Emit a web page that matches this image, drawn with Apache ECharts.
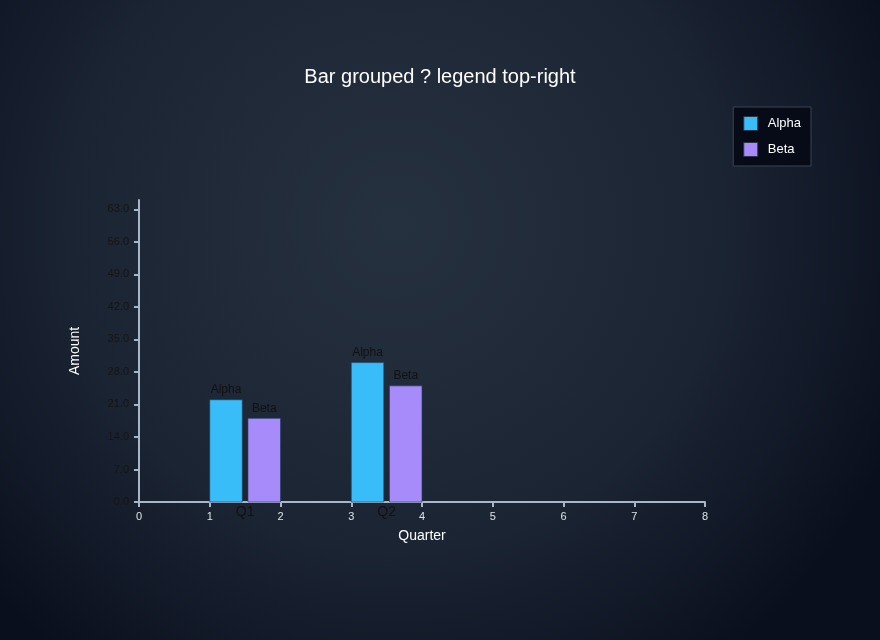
<!DOCTYPE html>
<html>
<head>
<meta charset="utf-8">
<script src="https://cdn.jsdelivr.net/npm/echarts@6/dist/echarts.min.js"></script>
<style>
html,body{margin:0;padding:0;background:#111827;}
#chart{width:880px;height:640px;}
</style>
</head>
<body>
<div id="chart"></div>
<script>
var categories = ['Q1', 'Q2'];
var seriesNames = ['Alpha', 'Beta'];
var alphaValues = [22, 30];
var betaValues = [18, 25];
var yTicks = [0, 7, 14, 21, 28, 35, 42, 49, 56, 63];
var xTicks = [0, 1, 2, 3, 4, 5, 6, 7, 8];

var FONT = '"Liberation Sans", Arial, sans-serif';
var chart = echarts.init(document.getElementById('chart'));

function barRender(params, api) {
  var i = api.value(0);
  var v = api.value(1);
  var s = params.seriesIndex;
  var x0 = 1 + 2 * i + s * 0.54;
  var p0 = api.coord([x0, v]);
  var p1 = api.coord([x0 + 0.46, 0]);
  var st = api.style();
  return {
    type: 'group',
    children: [
      {
        type: 'rect',
        shape: { x: p0[0], y: p0[1], width: p1[0] - p0[0], height: p1[1] - p0[1] },
        style: { fill: st.fill, stroke: 'rgba(30,60,90,0.6)', lineWidth: 1 }
      },
      {
        type: 'text',
        x: (p0[0] + p1[0]) / 2,
        y: p0[1] - 4,
        style: { text: seriesNames[s], fill: '#111111', font: '12px ' + FONT, align: 'center', verticalAlign: 'bottom' }
      }
    ]
  };
}

function catRender(params, api) {
  var i = api.value(0);
  var p = api.coord([1 + 2 * i + 0.5, 0]);
  return {
    type: 'text',
    x: p[0],
    y: p[1] + 3,
    style: { text: categories[i], fill: '#111111', font: '14px ' + FONT, align: 'center', verticalAlign: 'top' }
  };
}

var option = {
  backgroundColor: {
    type: 'radial', x: 0.45, y: 0.35, r: 0.85,
    colorStops: [
      { offset: 0, color: '#263140' },
      { offset: 0.6, color: '#1b2433' },
      { offset: 1, color: '#0a0f1d' }
    ]
  },
  animation: false,
  textStyle: { fontFamily: FONT },
  title: {
    text: 'Bar grouped ? legend top-right',
    left: 'center', top: 62,
    textStyle: { color: '#ffffff', fontSize: 20, fontWeight: 'normal', fontFamily: FONT }
  },
  legend: {
    data: seriesNames,
    orient: 'vertical',
    right: 69, top: 107,
    padding: [9, 10, 9, 10],
    itemWidth: 14, itemHeight: 14, itemGap: 11,
    backgroundColor: '#070b18',
    borderColor: '#3a4556', borderWidth: 1,
    icon: 'rect',
    itemStyle: { borderColor: '#2a3344', borderWidth: 1 },
    textStyle: { color: '#ffffff', fontSize: 13, fontFamily: FONT, padding: [0, 0, 0, 5] }
  },
  grid: { left: 139, right: 175, top: 200, bottom: 138, containLabel: false },
  xAxis: {
    type: 'value', min: 0, max: 8, interval: 1,
    name: 'Quarter', nameLocation: 'middle', nameGap: 27,
    nameTextStyle: { color: '#ffffff', fontSize: 14, fontFamily: FONT },
    axisLine: { show: true, lineStyle: { color: '#a9b6c8', width: 2 } },
    axisTick: { show: true, length: 5, lineStyle: { color: '#a9b6c8', width: 2 } },
    axisLabel: { color: '#dde3ea', fontSize: 11, margin: 9, fontFamily: FONT },
    splitLine: { show: false }
  },
  yAxis: {
    type: 'value', min: 0, max: 65, interval: 7,
    name: 'Amount', nameLocation: 'middle', nameGap: 57,
    nameTextStyle: { color: '#ffffff', fontSize: 14, fontFamily: FONT },
    axisLine: { show: true, lineStyle: { color: '#a9b6c8', width: 2 } },
    axisTick: { show: true, length: 5, lineStyle: { color: '#a9b6c8', width: 2 }, customValues: yTicks },
    axisLabel: { color: '#151515', fontSize: 11, margin: 10, customValues: yTicks, fontFamily: FONT,
      align: 'right',
      formatter: function (v) { return Number(v).toFixed(1); } },
    splitLine: { show: false }
  },
  series: [
    {
      name: 'Alpha', type: 'custom', color: '#38bdf8',
      itemStyle: { color: '#38bdf8' },
      renderItem: barRender,
      data: alphaValues.map(function (v, i) { return [i, v]; })
    },
    {
      name: 'Beta', type: 'custom', color: '#a78bfa',
      itemStyle: { color: '#a78bfa' },
      renderItem: barRender,
      data: betaValues.map(function (v, i) { return [i, v]; })
    },
    {
      name: 'cats', type: 'custom', silent: true,
      renderItem: catRender,
      data: categories.map(function (c, i) { return [i, 0]; })
    }
  ]
};
chart.setOption(option);
</script>
</body>
</html>
